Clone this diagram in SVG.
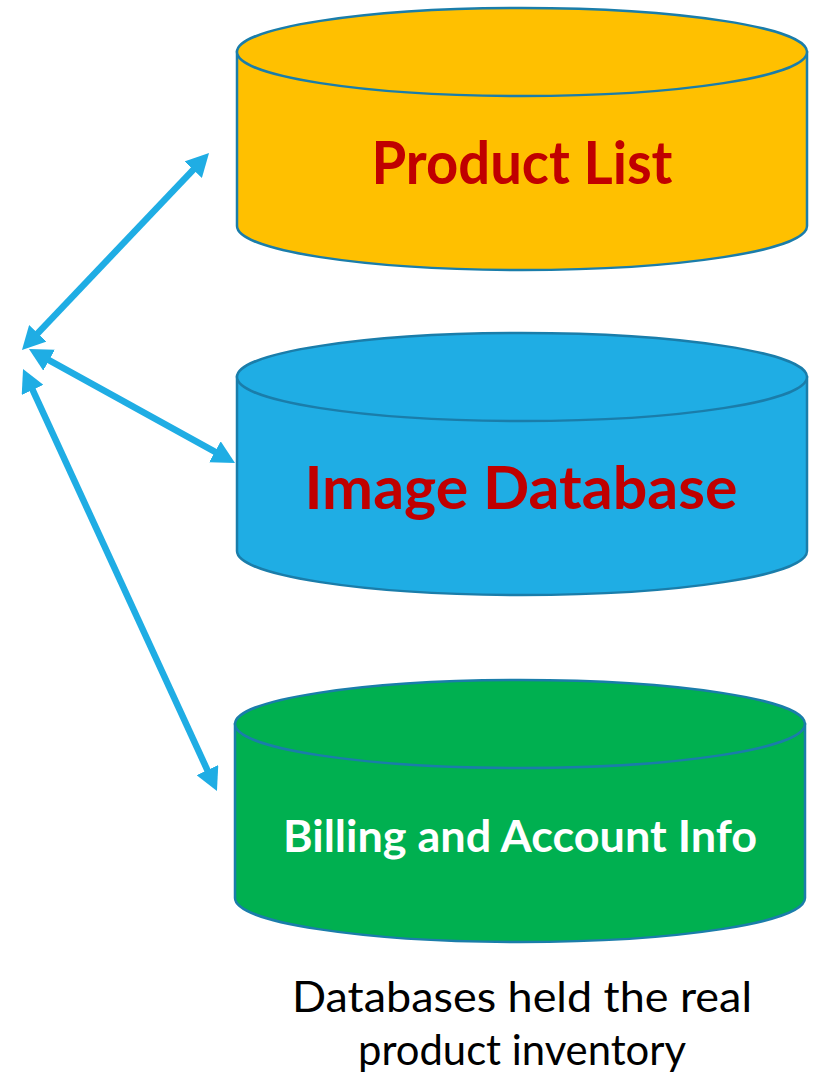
<svg xmlns="http://www.w3.org/2000/svg" width="823" height="1074" viewBox="0 0 823 1074">
  <style>
    .db { stroke: #1A7DAA; stroke-width: 2.5; }
    .yellow { fill: #FFC000; }
    .blue { fill: #1FADE4; }
    .green { fill: #00B050; }
    .title { font-family: "Lato", "Liberation Sans", sans-serif; font-weight: bold; text-anchor: middle; }
    .red { fill: #C00000; }
    .white { fill: #FFFFFF; }
    .caption { font-family: "Lato", "Liberation Sans", sans-serif; font-size: 42px; fill: #000000; text-anchor: middle; }
    .link { stroke: #1FADE4; stroke-width: 6.5; fill: none; marker-start: url(#head); marker-end: url(#head); }
  </style>
  <defs>
    <!-- arrowhead: 23 long, 24 wide; tip sits 15px past the line end -->
    <marker id="head" viewBox="0 0 23 24" markerUnits="userSpaceOnUse" markerWidth="23" markerHeight="24" refX="8" refY="12" orient="auto-start-reverse">
      <path d="M0,0 L23,12 L0,24 Z" fill="#1FADE4"/>
    </marker>
  </defs>
  <rect width="823" height="1074" fill="#FFFFFF"/>

  <g id="connectors">
    <line class="link" x1="32.3" y1="339.1" x2="198.7" y2="163.9"/>
    <line class="link" x1="42.1" y1="356.3" x2="221.9" y2="455.7"/>
    <line class="link" x1="29.3" y1="382.6" x2="210.7" y2="777.4"/>
  </g>

  <g id="product-list">
    <path class="db yellow" d="M237,52 L237,226 A285,44 0 0 0 807,226 L807,52 Z"/>
    <ellipse class="db yellow" cx="522" cy="52" rx="285" ry="44"/>
    <text class="title red" x="522" y="184" font-size="60" textLength="301" lengthAdjust="spacingAndGlyphs">Product List</text>
  </g>

  <g id="image-database">
    <path class="db blue" d="M237,377 L237,551 A285,44 0 0 0 807,551 L807,377 Z"/>
    <ellipse class="db blue" cx="522" cy="377" rx="285" ry="44"/>
    <text class="title red" x="521" y="509" font-size="60" textLength="433" lengthAdjust="spacingAndGlyphs">Image Database</text>
  </g>

  <g id="billing-account">
    <path class="db green" d="M235,724 L235,898 A285,44 0 0 0 805,898 L805,724 Z"/>
    <ellipse class="db green" cx="520" cy="724" rx="285" ry="44"/>
    <text class="title white" x="520" y="852" font-size="44" textLength="474" lengthAdjust="spacingAndGlyphs">Billing and Account Info</text>
  </g>

  <g id="caption">
    <text class="caption" x="522" y="1012" textLength="460" lengthAdjust="spacingAndGlyphs">Databases held the real</text>
    <text class="caption" x="522" y="1065" textLength="328" lengthAdjust="spacingAndGlyphs">product inventory</text>
  </g>
</svg>
